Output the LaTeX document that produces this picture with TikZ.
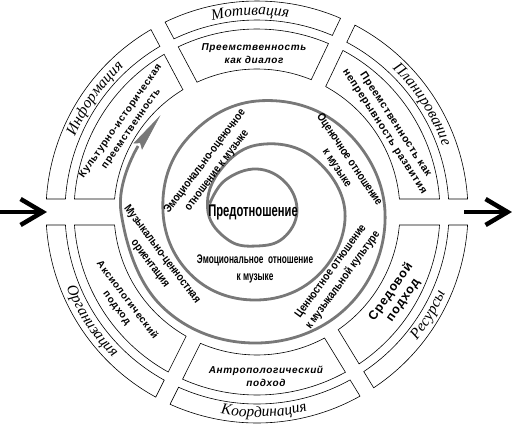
\documentclass[tikz,border=0pt]{standalone}
\usepackage{fontspec}
\setmainfont{Liberation Serif}
\setsansfont{Liberation Sans}
\newfontfamily\widebold[LetterSpace=6]{Liberation Sans}
\newfontfamily\slimbold[FakeStretch=0.84]{Liberation Sans}
\newfontfamily\narrowbold[FakeStretch=0.66]{Liberation Sans}
\usepackage{tikz}
\usetikzlibrary{arrows.meta, bending, decorations.text}
\definecolor{spiralgray}{RGB}{120,120,120}
\newcommand{\ringstyle}{\itshape\fontsize{15.5}{18}\selectfont}
\newcommand{\ringseg}[6]{%
  \draw[ringpart] ({#3-asin(#5/#2)}:#2) arc[start angle={#3-asin(#5/#2)}, end angle={#4+asin(#6/#2)}, radius=#2]
    -- ({#4+asin(#6/#1)}:#1) arc[start angle={#4+asin(#6/#1)}, end angle={#3-asin(#5/#1)}, radius=#1] -- cycle;}
\tikzstyle{ringpart} = [draw=black, line width=0.6pt]
\tikzstyle{approach} = [align=center, inner sep=0pt, font=\widebold\bfseries\fontsize{10}{13}\selectfont]
\tikzstyle{attitude} = [align=center, inner sep=0pt, font=\slimbold\bfseries\fontsize{11.5}{15}\selectfont]
\tikzstyle{spiral} = [draw=spiralgray, line width=2.8pt]
\tikzstyle{spiraltip} = [fill=spiralgray, draw=spiralgray, line width=0.6pt, line join=miter]
\tikzstyle{flow} = [line width=4.5pt, -{Straight Barb[bend, length=22pt, width=26pt]}]
\tikzset{outertext/.style={decorate, decoration={text along path, text align=center, text={|\ringstyle|#1}}}}

\begin{document}
\begin{tikzpicture}[x=1pt, y=1pt]

	\useasboundingbox (-257,-217) rectangle (255,212);

	\ringseg{192}{211}{180}{118}{13}{8}
	\ringseg{192}{211}{118}{64.5}{8}{8}
	\ringseg{192}{211}{64.5}{0}{8}{13}
	\ringseg{192}{211}{0}{-58.6}{13}{8}
	\ringseg{192}{211}{-58.6}{-116.5}{8}{8}
	\ringseg{192}{211}{-116.5}{-180}{8}{13}

	\ringseg{143}{183}{180}{118}{13}{8}
	\ringseg{143}{183}{118}{64.5}{8}{8}
	\ringseg{143}{183}{64.5}{0}{8}{13}
	\ringseg{143}{183}{0}{-58.6}{13}{8}
	\ringseg{143}{183}{-58.6}{-116.5}{8}{8}
	\ringseg{143}{183}{-116.5}{-180}{8}{13}

	\path[outertext=Информация] (170:197) arc[start angle=170, end angle=120, radius=197];
	\path[outertext=Мотивация] (117:197) arc[start angle=117, end angle=67, radius=197];
	\path[outertext=Планирование] (59:197) arc[start angle=59, end angle=7, radius=197];
	\path[outertext=Ресурсы] (-52:205) arc[start angle=-52, end angle=-10, radius=205];
	\path[outertext=Координация] (-113:205) arc[start angle=-113, end angle=-63, radius=205];
	\path[outertext=Организация] (-172:205) arc[start angle=-172, end angle=-121, radius=205];

	\node (cultural) [approach, rotate=55] at (-131,87) {Культурно-историческая\\преемственность};
	\node (dialogue) [approach, font=\widebold\bfseries\itshape\fontsize{10}{13}\selectfont] at (-3,158) {Преемственность\\как диалог};
	\node (continuity) [approach, rotate=-57, font=\widebold\bfseries\fontsize{10.5}{13}\selectfont] at (133,84) {Преемственность как\\непрерывность развития};
	\node (environment) [approach, rotate=55, font=\widebold\bfseries\fontsize{12.5}{15}\selectfont] at (140,-84) {Средовой\\подход};
	\node (anthropology) [approach, font=\widebold\bfseries\itshape\fontsize{10}{13}\selectfont] at (9,-164) {Антропологический\\подход};
	\node (axiology) [approach, rotate=-53] at (-135,-92) {Аксиологический\\подход};

	\draw[spiral] plot[smooth, tension=0.68] coordinates {(170:48) (135:45) (90:43) (45:41) (0:40) (-45:37) (-90:34) (-135:40) (180:49) (135:55) (90:67) (45:78) (0:88) (-45:88) (-90:88) (-135:91) (180:94) (135:101) (90:111) (45:120) (0:128) (-45:131) (-90:131) (-135:134) (180:136) (151:136)};
	\coordinate (spiralend) at (151:136);
	\fill[spiraltip, shift={(spiralend)}, rotate=54] (0,5) -- (36,0) -- (0,-5) -- (4,0) -- cycle;

	\node (preattitude) [font=\narrowbold\bfseries\fontsize{17}{20}\selectfont, inner sep=0pt] at (-4,0) {Предотношение};
	\node (emotional) [attitude, font=\narrowbold\bfseries\fontsize{12.5}{17}\selectfont] at (-2,-57) {Эмоциональное\ \ отношение\\к музыке};
	\node (evaluative) [attitude, rotate=53] at (-46,46) {Эмоционально-оценочное\\отношение к музыке};
	\node (assessment) [attitude, rotate=-56] at (86,48) {Оценочное отношение\\к музыке};
	\node (valuebased) [attitude, rotate=54] at (80,-64) {Ценностное отношение\\к музыкальной культуре};
	\node (orientation) [attitude, rotate=-53] at (-101,-47) {Музыкально-ценностная\\ориентация};

	\coordinate (westend) at (-257,0);
	\coordinate (ringwest) at (-210,0);
	\coordinate (ringeast) at (207,0);
	\coordinate (eastend) at (255,0);

	\draw[flow] (westend) -- (ringwest);
	\draw[flow] (ringeast) -- (eastend);

\end{tikzpicture}
\end{document}
